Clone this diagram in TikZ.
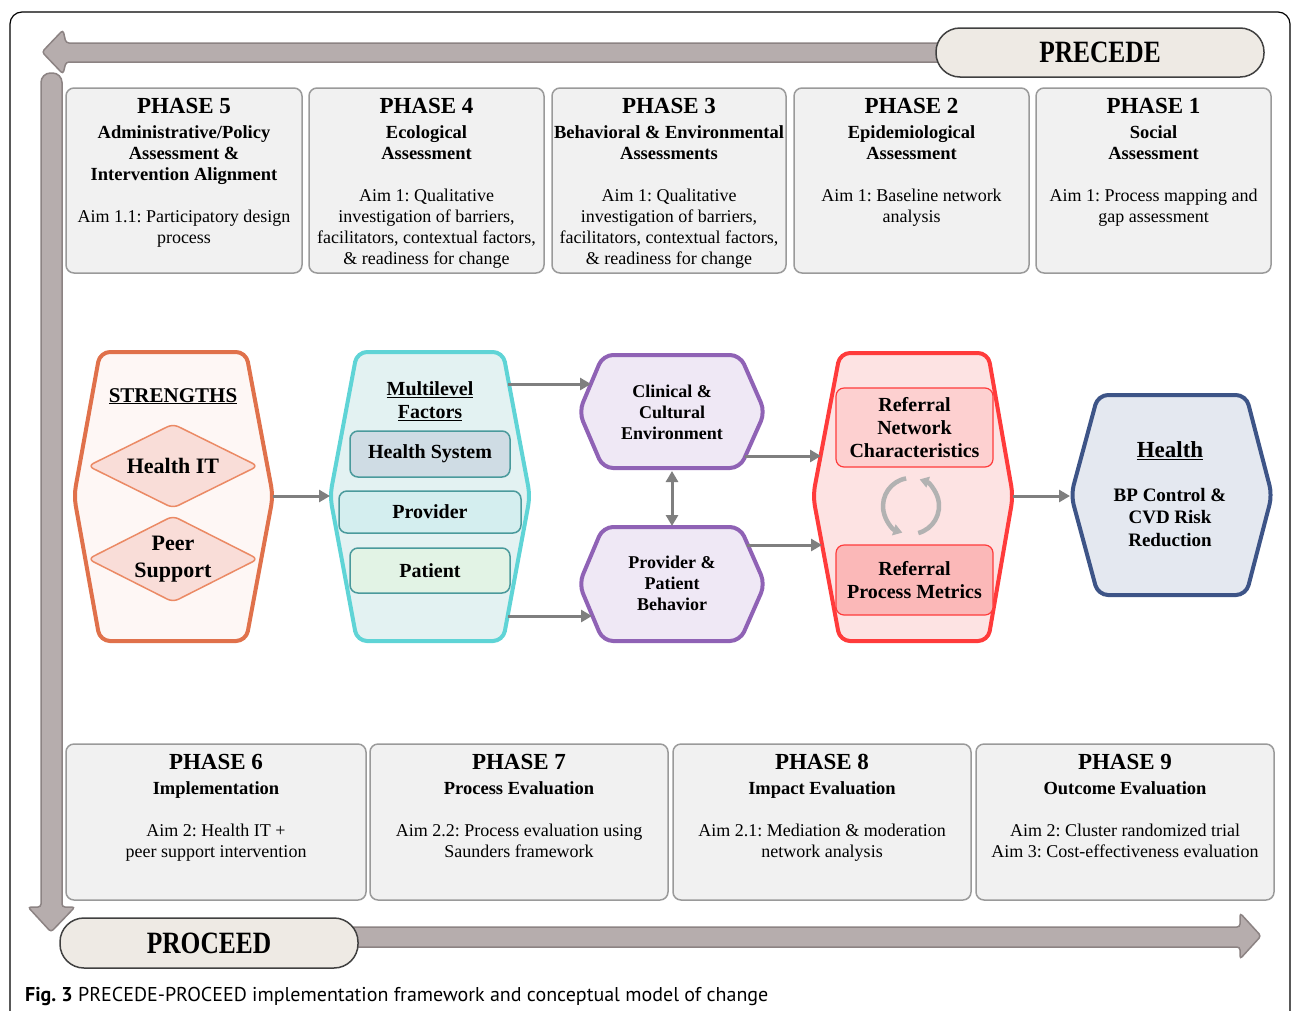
\documentclass[tikz,border=0pt]{standalone}
\usepackage{fontspec}
\setmainfont{Liberation Serif}
\newfontfamily\pillfont[FakeStretch=0.82]{Liberation Serif}
\newfontfamily\capfont{PT Sans}
\usetikzlibrary{arrows.meta}
\frenchspacing

\definecolor{bandfill}{HTML}{B6ADAD}
\definecolor{bandline}{HTML}{8C8383}
\definecolor{pillfill}{HTML}{EEEAE4}
\definecolor{boxfill}{HTML}{F1F1F1}
\definecolor{boxline}{HTML}{9A9A9A}
\definecolor{strline}{HTML}{E0714B}
\definecolor{strfill}{HTML}{FEF7F5}
\definecolor{dmdfill}{HTML}{F9DDD8}
\definecolor{dmdline}{HTML}{EB8A65}
\definecolor{mlvline}{HTML}{5FD4D6}
\definecolor{mlvfill}{HTML}{E3F2F2}
\definecolor{lvlline}{HTML}{4A9A9C}
\definecolor{sysfill}{HTML}{CFDCE4}
\definecolor{provfill}{HTML}{D4EEEF}
\definecolor{patfill}{HTML}{E2F3E5}
\definecolor{purline}{HTML}{8F62B5}
\definecolor{purfill}{HTML}{EFE8F5}
\definecolor{redline}{HTML}{FF3B3B}
\definecolor{redfill}{HTML}{FDE3E3}
\definecolor{rncfill}{HTML}{FDD0D0}
\definecolor{rpmfill}{HTML}{FBB8B8}
\definecolor{navline}{HTML}{3D5487}
\definecolor{navfill}{HTML}{E4E8F0}
\definecolor{connc}{HTML}{7F7F7F}

\newcommand{\phtitle}[1]{{\fontsize{23}{23}\selectfont\bfseries #1}}
\newcommand{\phsub}[1]{{\fontsize{18.5}{21}\selectfont\bfseries #1}}

\begin{document}
\begin{tikzpicture}[x=1pt,y=-1pt,
	band/.style={fill=bandfill,draw=bandline,line width=1.5},
	pill/.style={draw=black!75,fill=pillfill,line width=1.5,rounded corners=24,
		font=\pillfont\bfseries\fontsize{31}{31}\selectfont},
	phbox/.style={draw=boxline,fill=boxfill,line width=1.5,rounded corners=8},
	phtext/.style={anchor=north,align=center,inner sep=0,font=\fontsize{18}{21}\selectfont},
	hexa/.style={line width=4,rounded corners=10},
	lvlbox/.style={draw=lvlline,line width=1.5,rounded corners=8,inner sep=0,
		font=\bfseries\fontsize{20}{23}\selectfont},
	refbox/.style={draw=redline,line width=1.2,rounded corners=8,inner sep=0,align=center,
		font=\bfseries\fontsize{20}{23}\selectfont},
	hexlabel/.style={align=center,inner sep=0,font=\bfseries\fontsize{18}{21}\selectfont},
	conn/.style={draw=connc,line width=3,-{Triangle[length=11pt,width=12pt]}},
	cyc/.style={draw=gray!60,line width=4.5,-{Triangle[length=9pt,width=11pt]}}]

\useasboundingbox (0,0) rectangle (1292,1010);
\clip (0,0) rectangle (1292,1010);

% outer frame
\draw[line width=1.2,rounded corners=12] (10,1060) -- (10,12) -- (1290,12) -- (1290,1060);

% PRECEDE and PROCEED arrows
\draw[band,rounded corners=3] (950,43) -- (66,43) -- (63,30) -- (42,52) -- (63,74) -- (66,62) -- (950,62) -- cycle;
\draw[band] (41,880) [rounded corners=9.5] -- (41,73) -- (62,73) -- (62,880)
	[rounded corners=3] -- (62,907) -- (75,907) -- (51,932) -- (28,907) -- (41,907) -- cycle;
\draw[band] (300,947) [rounded corners=9.5] -- (300,927) -- (360,927) [rounded corners=3] -- (1240,927)
	-- (1240,913) -- (1261,936) -- (1240,959) -- (1240,947) -- cycle;
\node[pill,minimum width=328,minimum height=49] (precede) at (1100,52.5) {PRECEDE};
\node[pill,minimum width=298,minimum height=50] (proceed) at (209,943) {PROCEED};

% phases 5 to 1
\node[phbox,minimum width=236,minimum height=185] (ph5) at (184,180.5) {};
\node[phbox,minimum width=235,minimum height=185] (ph4) at (426.5,180.5) {};
\node[phbox,minimum width=234,minimum height=185] (ph3) at (669,180.5) {};
\node[phbox,minimum width=235,minimum height=185] (ph2) at (911.5,180.5) {};
\node[phbox,minimum width=235,minimum height=185] (ph1) at (1153.5,180.5) {};

\node[phtext] (ph5t) at (184,98.4) {\phtitle{PHASE 5}\\[3.5pt]
	\phsub{Administrative/Policy}\\ \phsub{Assessment \&}\\ \phsub{Intervention Alignment}\\[21pt]
	Aim 1.1: Participatory design\\ process};
\node[phtext] (ph4t) at (426.5,98.4) {\phtitle{PHASE 4}\\[3.5pt]
	\phsub{Ecological}\\ \phsub{Assessment}\\[21pt]
	Aim 1: Qualitative\\ investigation of barriers,\\ facilitators, contextual factors,\\ \& readiness for change};
\node[phtext] (ph3t) at (669,98.4) {\phtitle{PHASE 3}\\[3.5pt]
	\phsub{Behavioral \& Environmental}\\ \phsub{Assessments}\\[21pt]
	Aim 1: Qualitative\\ investigation of barriers,\\ facilitators, contextual factors,\\ \& readiness for change};
\node[phtext] (ph2t) at (911.5,98.4) {\phtitle{PHASE 2}\\[3.5pt]
	\phsub{Epidemiological}\\ \phsub{Assessment}\\[21pt]
	Aim 1: Baseline network\\ analysis};
\node[phtext] (ph1t) at (1153.5,98.4) {\phtitle{PHASE 1}\\[3.5pt]
	\phsub{Social}\\ \phsub{Assessment}\\[21pt]
	Aim 1: Process mapping and\\ gap assessment};

% phases 6 to 9
\node[phbox,minimum width=300,minimum height=156] (ph6) at (216,822) {};
\node[phbox,minimum width=298,minimum height=156] (ph7) at (519,822) {};
\node[phbox,minimum width=298,minimum height=156] (ph8) at (822,822) {};
\node[phbox,minimum width=298,minimum height=156] (ph9) at (1125,822) {};

\node[phtext] (ph6t) at (216,754.4) {\phtitle{PHASE 6}\\[3.5pt]
	\phsub{Implementation}\\[21pt]
	Aim 2: Health IT +\\ peer support intervention};
\node[phtext] (ph7t) at (519,754.4) {\phtitle{PHASE 7}\\[3.5pt]
	\phsub{Process Evaluation}\\[21pt]
	Aim 2.2: Process evaluation using\\ Saunders framework};
\node[phtext] (ph8t) at (822,754.4) {\phtitle{PHASE 8}\\[3.5pt]
	\phsub{Impact Evaluation}\\[21pt]
	Aim 2.1: Mediation \& moderation\\ network analysis};
\node[phtext] (ph9t) at (1125,754.4) {\phtitle{PHASE 9}\\[3.5pt]
	\phsub{Outcome Evaluation}\\[21pt]
	Aim 2: Cluster randomized trial\\ Aim 3: Cost-effectiveness evaluation};

% strengths
\draw[hexa,draw=strline,fill=strfill] (100,352) -- (246,352) -- (273,496) -- (246,641) -- (100,641) -- (74,496) -- cycle;
\draw[draw=dmdline,fill=dmdfill,line width=1.5,rounded corners=6] (88,466) -- (173,424) -- (258,466) -- (173,508) -- cycle;
\draw[draw=dmdline,fill=dmdfill,line width=1.5,rounded corners=6] (88,559) -- (173,516) -- (258,559) -- (173,602) -- cycle;
\node[anchor=base,inner sep=0,font=\bfseries\fontsize{21}{21}\selectfont] (strT) at (173,402) {\underline{STRENGTHS}};
\node[inner sep=0,font=\bfseries\fontsize{22}{22}\selectfont] (hit) at (173,466) {Health IT};
\node[align=center,inner sep=0,font=\bfseries\fontsize{22}{27}\selectfont] (peer) at (173,559) {Peer\\ Support};

% multilevel factors
\draw[hexa,draw=mlvline,fill=mlvfill] (357,352) -- (503,352) -- (530,496) -- (503,641) -- (357,641) -- (330,496) -- cycle;
\node[align=center,inner sep=0,font=\bfseries\fontsize{20}{23}\selectfont] (mlvT) at (430,401.5) {\underline{Multilevel}\\ \underline{Factors}};
\node[lvlbox,fill=sysfill,minimum width=160,minimum height=46] (sys) at (430,454) {Health System};
\node[lvlbox,fill=provfill,minimum width=182,minimum height=42] (prov) at (430,512) {Provider};
\node[lvlbox,fill=patfill,minimum width=160,minimum height=45] (pat) at (430,570.5) {Patient};

% clinical environment and behaviour
\draw[hexa,draw=purline,fill=purfill] (603,355) -- (740,355) -- (765,412) -- (740,468) -- (603,468) -- (579,412) -- cycle;
\draw[hexa,draw=purline,fill=purfill] (603,527) -- (740,527) -- (765,584) -- (740,641) -- (603,641) -- (579,584) -- cycle;
\node[hexlabel] (clin) at (672,412.5) {Clinical \&\\ Cultural\\ Environment};
\node[hexlabel] (ppb) at (672,583.5) {Provider \&\\ Patient\\ Behavior};

% referral network
\draw[hexa,draw=redline,fill=redfill] (840,353) -- (988,353) -- (1013,496) -- (988,641) -- (840,641) -- (813,496) -- cycle;
\node[refbox,fill=rncfill,minimum width=157,minimum height=79] (rnc) at (914.5,427.5) {Referral\\ Network\\ Characteristics};
\node[refbox,fill=rpmfill,minimum width=157,minimum height=70] (rpm) at (914.5,580) {Referral\\ Process Metrics};
\draw[cyc] (911,506) ++(-100:28) arc (-100:-252:28);
\draw[cyc] (911,506) ++(-285:28) arc (-285:-432:28);

% health outcome
\draw[hexa,draw=navline,fill=navfill] (1098,395) -- (1246,395) -- (1272,495) -- (1246,595) -- (1098,595) -- (1071,495) -- cycle;
\node[anchor=base,inner sep=0,font=\bfseries\fontsize{23}{23}\selectfont] (hlthT) at (1170,457.6) {\underline{Health}};
\node[align=center,inner sep=0,font=\bfseries\fontsize{19}{22.5}\selectfont] (hlth) at (1170,517.5) {BP Control \&\\ CVD Risk\\ Reduction};

% connector ends
\coordinate (strE) at (273,496);
\coordinate (mlvW) at (330,496);
\coordinate (mlvA) at (508,384);
\coordinate (mlvB) at (508,616);
\coordinate (clinW) at (591,384);
\coordinate (clinS) at (672,471);
\coordinate (clinE) at (745,456);
\coordinate (ppbW) at (592,616);
\coordinate (ppbN) at (672,526);
\coordinate (ppbE) at (747,545);
\coordinate (redA) at (821,456);
\coordinate (redB) at (822,545);
\coordinate (redE) at (1013,496);
\coordinate (hlthW) at (1070,496);

\draw[conn] (strE) -- (mlvW);
\draw[conn] (mlvA) -- (clinW);
\draw[conn] (mlvB) -- (ppbW);
\draw[conn,{Triangle[length=11pt,width=12pt]}-{Triangle[length=11pt,width=12pt]}] (clinS) -- (ppbN);
\draw[conn] (clinE) -- (redA);
\draw[conn] (ppbE) -- (redB);
\draw[conn] (redE) -- (hlthW);

% caption
\node[anchor=base west,inner sep=0,font=\capfont\fontsize{20}{20}\selectfont] (cap) at (25,1001)
	{\textbf{Fig. 3} PRECEDE-PROCEED implementation framework and conceptual model of change};
\end{tikzpicture}
\end{document}
